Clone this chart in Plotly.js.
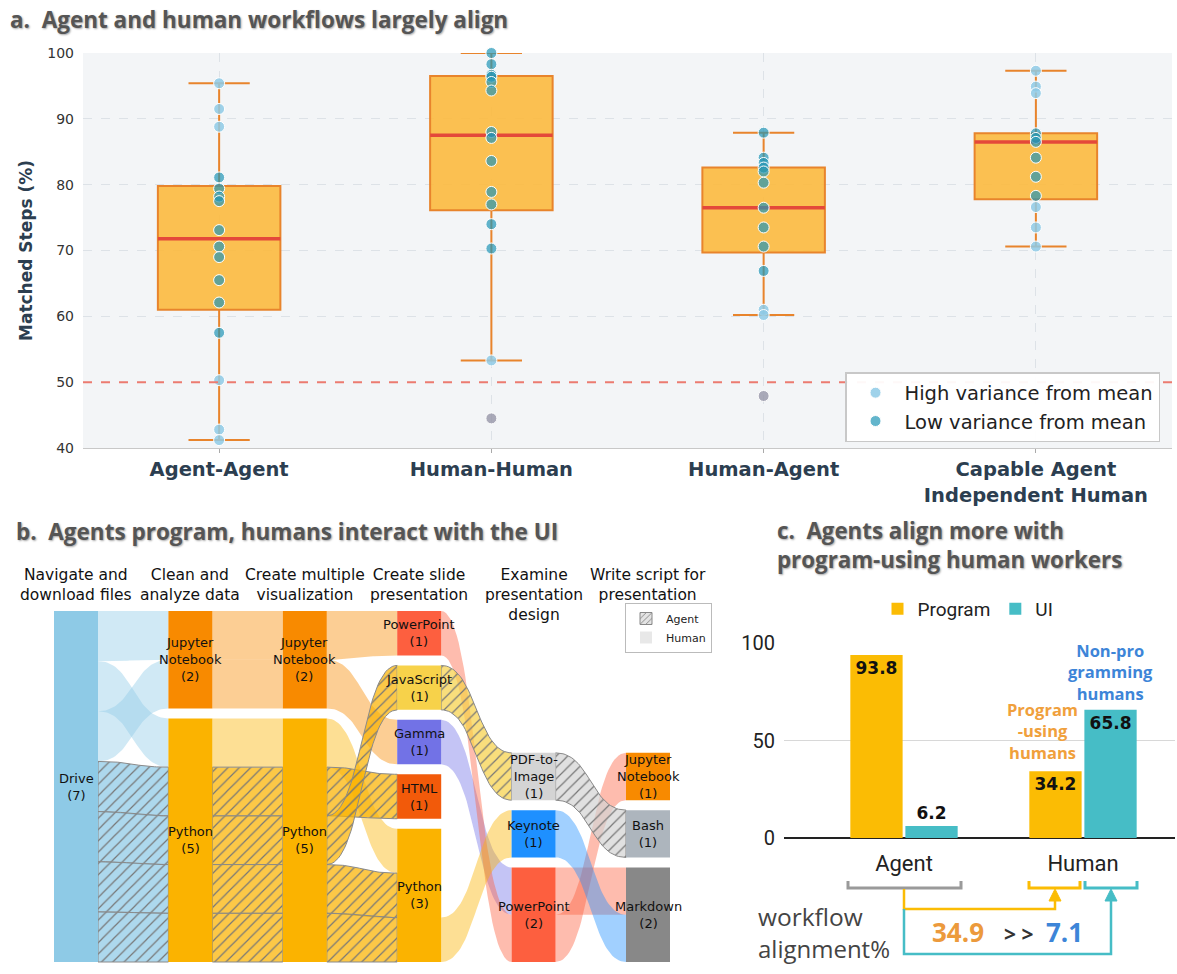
<!DOCTYPE html>
<html><head><meta charset="utf-8">
<script src="https://cdn.plot.ly/plotly-3.0.1.min.js"></script>
<style>html,body{margin:0;padding:0;background:#fff}#chart{width:1177px;height:974px}</style>
</head><body><div id="chart"></div>
<script>
// ================= DATA =================
// Panel a: matched steps (%) per comparison
const groups = ['Agent-Agent', 'Human-Human', 'Human-Agent', 'Capable Agent<br>Independent Human'];
const boxQ1     = [61.0, 76.1, 69.7, 77.8];
const boxMedian = [71.8, 87.5, 76.5, 86.5];
const boxQ3     = [79.8, 96.5, 82.6, 87.8];
const boxLow    = [41.2, 53.3, 60.2, 70.6];
const boxHigh   = [95.4, 100.0, 87.9, 97.3];
const highVariance = [
  [95.4, 91.5, 88.8, 50.3, 42.8, 41.2],
  [53.3],
  [61.0, 60.2],
  [97.3, 94.9, 93.9, 76.6, 73.5, 70.6]
];
const lowVariance = [
  [81.1, 79.4, 78.2, 77.5, 73.1, 70.6, 69.0, 65.5, 62.1, 57.5],
  [100.0, 98.3, 96.7, 96.4, 95.6, 94.3, 88.0, 87.1, 83.6, 78.9, 77.0, 74.0, 70.3],
  [87.9, 84.1, 83.3, 82.6, 82.0, 80.3, 76.5, 73.5, 70.6, 66.9],
  [87.8, 87.1, 86.5, 84.1, 81.2, 78.3]
];
const outlierPoints = [[], [44.5], [47.9], []];
const chanceLevel = 50;

// Panel b: workflow stages, tools, and per-workflow transitions
const stageLabels = ['Navigate and<br>download files', 'Clean and<br>analyze data', 'Create multiple<br>visualization',
  'Create slide<br>presentation', 'Examine<br>presentation<br>design', 'Write script for<br>presentation'];
const stageTools = [
  ['Drive'],
  ['Jupyter Notebook', 'Python'],
  ['Jupyter Notebook', 'Python'],
  ['PowerPoint', 'JavaScript', 'Gamma', 'HTML', 'Python'],
  ['PDF-to-Image', 'Keynote', 'PowerPoint'],
  ['Jupyter Notebook', 'Bash', 'Markdown']
];
// [stage, from tool, to tool, who]  (one workflow per row)
const flows = [
  [0, 'Drive', 'Jupyter Notebook', 'Human'],
  [0, 'Drive', 'Python', 'Human'],
  [0, 'Drive', 'Jupyter Notebook', 'Human'],
  [0, 'Drive', 'Python', 'Agent'],
  [0, 'Drive', 'Python', 'Agent'],
  [0, 'Drive', 'Python', 'Agent'],
  [0, 'Drive', 'Python', 'Agent'],
  [1, 'Jupyter Notebook', 'Jupyter Notebook', 'Human'],
  [1, 'Jupyter Notebook', 'Jupyter Notebook', 'Human'],
  [1, 'Python', 'Python', 'Human'],
  [1, 'Python', 'Python', 'Agent'],
  [1, 'Python', 'Python', 'Agent'],
  [1, 'Python', 'Python', 'Agent'],
  [1, 'Python', 'Python', 'Agent'],
  [2, 'Jupyter Notebook', 'PowerPoint', 'Human'],
  [2, 'Jupyter Notebook', 'Gamma', 'Human'],
  [2, 'Python', 'Python', 'Human'],
  [2, 'Python', 'HTML', 'Agent'],
  [2, 'Python', 'JavaScript', 'Agent'],
  [2, 'Python', 'Python', 'Agent'],
  [2, 'Python', 'Python', 'Agent'],
  [3, 'Gamma', 'PowerPoint', 'Human'],
  [3, 'PowerPoint', 'PowerPoint', 'Human'],
  [3, 'JavaScript', 'PDF-to-Image', 'Agent'],
  [3, 'Python', 'Keynote', 'Human'],
  [4, 'PowerPoint', 'Markdown', 'Human'],
  [4, 'PowerPoint', 'Jupyter Notebook', 'Human'],
  [4, 'Keynote', 'Markdown', 'Human'],
  [4, 'PDF-to-Image', 'Bash', 'Agent']
];

// Panel c: share of workflow steps (%)
const alignCats = ['Agent', 'Human'];
const programShare = [93.8, 34.2];
const uiShare = [6.2, 65.8];
const alignmentProgram = 34.9;
const alignmentUI = 7.1;

// ================= STYLE =================
const W = 1177, H = 974;
const toolColor = {
  'Drive': '#8ecae6', 'Jupyter Notebook': '#f88a00', 'Python': '#fbb300', 'PowerPoint': '#fd5f3f',
  'JavaScript': '#f7d24a', 'Gamma': '#7272e6', 'HTML': '#f25a0a', 'PDF-to-Image': '#d4d4d4',
  'Keynote': '#1e90ff', 'Bash': '#adb5bd', 'Markdown': '#888888'
};
const toolLabel = t => t === 'Jupyter Notebook' ? 'Jupyter<br>Notebook' : (t === 'PDF-to-Image' ? 'PDF-to-<br>Image' : t);
function rgba(hex, a) {
  const n = parseInt(hex.slice(1), 16);
  return `rgba(${(n >> 16) & 255},${(n >> 8) & 255},${n & 255},${a})`;
}
const titleFont = (size) => ({family: 'Open Sans', size: size, weight: 700, color: '#555', shadow: '1px 1px 2px rgba(0,0,0,0.35)'});

const traces = [];
const annotations = [];
const shapes = [];

// ================= PANEL A =================
const boxWidth = 0.45;
const gx = groups.map((g, i) => i);
traces.push({
  type: 'box', x: gx, q1: boxQ1, median: boxMedian, q3: boxQ3, lowerfence: boxLow, upperfence: boxHigh,
  width: boxWidth, whiskerwidth: 0.5, fillcolor: 'rgba(252,186,62,0.9)', line: {color: '#e8842c', width: 2},
  boxpoints: false, showlegend: false, hoverinfo: 'skip', xaxis: 'x', yaxis: 'y'
});
const mx = [], my = [];
boxMedian.forEach((m, i) => { mx.push(i - boxWidth / 2, i + boxWidth / 2, null); my.push(m, m, null); });
traces.push({type: 'scatter', mode: 'lines', x: mx, y: my, line: {color: '#e4483a', width: 3.5},
  showlegend: false, hoverinfo: 'skip', xaxis: 'x', yaxis: 'y'});
function flat(arr) { const xs = [], ys = []; arr.forEach((v, i) => v.forEach(y => { xs.push(i); ys.push(y); })); return {xs, ys}; }
const hv = flat(highVariance), lv = flat(lowVariance), ov = flat(outlierPoints);
traces.push({type: 'scatter', mode: 'markers', x: ov.xs, y: ov.ys, showlegend: false, cliponaxis: false,
  marker: {size: 11, color: 'rgba(150,150,168,0.8)', line: {color: 'white', width: 1}}, xaxis: 'x', yaxis: 'y', legend: 'legend'});
traces.push({type: 'scatter', mode: 'markers', name: 'High variance from mean', x: hv.xs, y: hv.ys, cliponaxis: false,
  marker: {size: 11, color: 'rgba(142,202,230,0.85)', line: {color: 'white', width: 1}}, xaxis: 'x', yaxis: 'y', legend: 'legend'});
traces.push({type: 'scatter', mode: 'markers', name: 'Low variance from mean', x: lv.xs, y: lv.ys, cliponaxis: false,
  marker: {size: 11, color: 'rgba(33,150,182,0.7)', line: {color: 'white', width: 1}}, xaxis: 'x', yaxis: 'y', legend: 'legend'});

shapes.push({type: 'rect', xref: 'x domain', yref: 'y domain', x0: 0, x1: 1, y0: 0, y1: 1, layer: 'below',
  fillcolor: '#f3f5f7', line: {width: 0}});
shapes.push({type: 'line', xref: 'x domain', yref: 'y', x0: 0, x1: 1, y0: chanceLevel, y1: chanceLevel,
  line: {color: '#ec7b70', width: 2, dash: 'dash'}});

annotations.push({xref: 'x3', yref: 'y3', x: 8, y: 19, xanchor: 'left', yanchor: 'middle', showarrow: false,
  text: 'a.  Agent and human workflows largely align', font: titleFont(22.5)});

// ================= PANEL B =================
const L = {x0: 54, step: 114.4, w: 44, top: 611, bottom: 962, pad: 10};
const nodes = stageTools.map((tools, s) => tools.map(t => ({tool: t, stage: s, vin: 0, vout: 0})));
const findNode = (s, t) => nodes[s].find(n => n.tool === t);
flows.forEach(([s, a, b]) => { findNode(s, a).vout++; findNode(s + 1, b).vin++; });
nodes.forEach(col => col.forEach(n => { n.value = Math.max(n.vin, n.vout); }));
const maxTotal = Math.max(...nodes.map(col => col.reduce((acc, n) => acc + n.value, 0)));
const unit = nodes.map(col => (L.bottom - L.top - (col.length - 1) * L.pad) / maxTotal);
nodes.forEach((col, s) => {
  let y = L.bottom;
  for (let k = col.length - 1; k >= 0; k--) {
    const n = col[k];
    n.y1 = y; n.y0 = y - n.value * unit[s]; y = n.y0 - L.pad;
    n.x0 = L.x0 + s * L.step; n.x1 = n.x0 + L.w;
    n.inC = n.y0; n.outC = n.y1 - n.vout * unit[s];
  }
});
const cubic = (a, b, c, d, t) => (1 - t) ** 3 * a + 3 * (1 - t) ** 2 * t * b + 3 * (1 - t) * t * t * c + t ** 3 * d;
function band(xs, xt, ys0, ys1, yt0, yt1) {
  const xm = (xs + xt) / 2, n = 40, X = [], Y = [];
  for (let i = 0; i <= n; i++) { const t = i / n; X.push(cubic(xs, xm, xm, xt, t)); Y.push(cubic(ys0, ys0, yt0, yt0, t)); }
  for (let i = n; i >= 0; i--) { const t = i / n; X.push(cubic(xs, xm, xm, xt, t)); Y.push(cubic(ys1, ys1, yt1, yt1, t)); }
  X.push(X[0]); Y.push(Y[0]);
  return {X, Y};
}
flows.forEach(([s, a, b, who]) => {
  const src = findNode(s, a), tgt = findNode(s + 1, b);
  const ys0 = src.outC, ys1 = ys0 + unit[s]; src.outC = ys1;
  const yt0 = tgt.inC, yt1 = yt0 + unit[s + 1]; tgt.inC = yt1;
  const p = band(src.x1, tgt.x0, ys0, ys1, yt0, yt1);
  const c = toolColor[a];
  const tr = {type: 'scatter', mode: 'lines', x: p.X, y: p.Y, fill: 'toself', xaxis: 'x3', yaxis: 'y3',
    hoverinfo: 'skip', showlegend: false};
  if (who === 'Agent') {
    tr.fillcolor = rgba(c, 0.72);
    tr.line = {color: '#8a8a8a', width: 1};
    tr.fillpattern = {shape: '/', fgcolor: '#777777', bgcolor: rgba(c, 0.72), size: 8, solidity: 0.15, fillmode: 'replace'};
  } else {
    tr.fillcolor = rgba(c, 0.42);
    tr.line = {color: 'rgba(0,0,0,0)', width: 0};
  }
  traces.push(tr);
});
nodes.forEach(col => col.forEach(n => {
  traces.push({type: 'scatter', mode: 'lines', x: [n.x0, n.x1, n.x1, n.x0, n.x0], y: [n.y0, n.y0, n.y1, n.y1, n.y0],
    fill: 'toself', fillcolor: toolColor[n.tool], line: {width: 0, color: 'rgba(0,0,0,0)'},
    xaxis: 'x3', yaxis: 'y3', hoverinfo: 'skip', showlegend: false});
  annotations.push({xref: 'x3', yref: 'y3', x: (n.x0 + n.x1) / 2, y: (n.y0 + n.y1) / 2, showarrow: false,
    text: toolLabel(n.tool) + '<br>(' + n.value + ')', font: {family: 'DejaVu Sans', size: 13, color: '#111'}});
}));
stageLabels.forEach((lab, s) => {
  annotations.push({xref: 'x3', yref: 'y3', x: L.x0 + s * L.step + L.w / 2, y: 564, yanchor: 'top', showarrow: false,
    text: lab, font: {family: 'DejaVu Sans', size: 15.5, color: '#111'}});
});
// legend swatches for panel b
traces.push({type: 'bar', x: [null], y: [null], name: 'Agent', legend: 'legend3', xaxis: 'x3', yaxis: 'y3',
  marker: {color: '#e4e4e4', line: {color: '#888', width: 1}, pattern: {shape: '/', fgcolor: '#777', bgcolor: '#e4e4e4', size: 5, solidity: 0.2}}});
traces.push({type: 'bar', x: [null], y: [null], name: 'Human', legend: 'legend3', xaxis: 'x3', yaxis: 'y3',
  marker: {color: '#e8e8e8', line: {width: 0}}});

annotations.push({xref: 'x3', yref: 'y3', x: 14, y: 531, xanchor: 'left', yanchor: 'middle', showarrow: false,
  text: 'b.  Agents program, humans interact with the UI', font: titleFont(22.5)});

// ================= PANEL C =================
const cx = alignCats.map((c, i) => i);
const barText = {family: 'DejaVu Sans', size: 17, weight: 700, color: '#111'};
traces.push({type: 'bar', name: 'Program', x: cx, y: programShare, marker: {color: '#fbbc04'},
  texttemplate: '%{y:.1f}', textposition: 'inside', insidetextanchor: 'end', textfont: barText, constraintext: 'none',
  cliponaxis: false, xaxis: 'x2', yaxis: 'y2', legend: 'legend2', hoverinfo: 'skip'});
traces.push({type: 'bar', name: 'UI', x: cx, y: uiShare, marker: {color: '#46bdc6'},
  texttemplate: '%{y:.1f}', textposition: ['outside', 'inside'], insidetextanchor: 'end', textfont: barText,
  outsidetextfont: barText, insidetextfont: barText, constraintext: 'none',
  cliponaxis: false, xaxis: 'x2', yaxis: 'y2', legend: 'legend2', hoverinfo: 'skip'});

annotations.push({xref: 'x3', yref: 'y3', x: 775, y: 545, xanchor: 'left', yanchor: 'middle', align: 'left', showarrow: false,
  text: 'c.  Agents align more with<br>program-using human workers', font: titleFont(22.3)});
const noteFont = (c) => ({family: 'Open Sans', size: 16.5, weight: 700, color: c});
annotations.push({xref: 'x3', yref: 'y3', x: 1110, y: 672, showarrow: false,
  text: 'Non-pro<br>gramming<br>humans', font: noteFont('#3d85d8')});
annotations.push({xref: 'x3', yref: 'y3', x: 1042, y: 731, showarrow: false,
  text: 'Program<br>-using<br>humans', font: noteFont('#f0a03c')});
annotations.push({xref: 'x3', yref: 'y3', x: 756, y: 916, xanchor: 'left', showarrow: false,
  text: 'workflow', font: {family: 'Open Sans', size: 24.5, color: '#444'}});
annotations.push({xref: 'x3', yref: 'y3', x: 756, y: 948, xanchor: 'left', showarrow: false,
  text: 'alignment%', font: {family: 'Open Sans', size: 24, color: '#444'}});
annotations.push({xref: 'x3', yref: 'y3', x: 958, y: 932, showarrow: false,
  text: alignmentProgram.toFixed(1), font: {family: 'Open Sans', size: 26, weight: 700, color: '#ec9a3c'}});
annotations.push({xref: 'x3', yref: 'y3', x: 1018, y: 934, showarrow: false,
  text: '&gt; &gt;', font: {family: 'Open Sans', size: 21, weight: 700, color: '#333'}});
annotations.push({xref: 'x3', yref: 'y3', x: 1064, y: 932, showarrow: false,
  text: alignmentUI.toFixed(1), font: {family: 'Open Sans', size: 26, weight: 700, color: '#3d85d8'}});

const bracket = (x0, x1, color) => ({type: 'path', xref: 'x3', yref: 'y3',
  path: `M${x0},881 L${x0},888 L${x1},888 L${x1},881`, line: {color: color, width: 3}});
shapes.push(bracket(848, 961, '#9a9a9a'));
shapes.push(bracket(1029, 1080, '#fbbc04'));
shapes.push(bracket(1085, 1137, '#46bdc6'));
shapes.push({type: 'path', xref: 'x3', yref: 'y3', path: 'M904,889 L904,909 L1055,909 L1055,897', line: {color: '#fbbc04', width: 2.5}});
shapes.push({type: 'path', xref: 'x3', yref: 'y3', path: 'M1049,901 L1055,889 L1061,901 Z', fillcolor: '#fbbc04', line: {color: '#fbbc04', width: 1}});
shapes.push({type: 'path', xref: 'x3', yref: 'y3', path: 'M904,909 L904,954 L1111,954 L1111,897', line: {color: '#46bdc6', width: 2.5}});
shapes.push({type: 'path', xref: 'x3', yref: 'y3', path: 'M1105,901 L1111,889 L1117,901 Z', fillcolor: '#46bdc6', line: {color: '#46bdc6', width: 1}});

// ================= LAYOUT =================
const layout = {
  width: W, height: H, margin: {l: 0, r: 0, t: 0, b: 0},
  paper_bgcolor: '#ffffff', plot_bgcolor: 'rgba(0,0,0,0)',
  font: {family: 'DejaVu Sans', color: '#222'},
  barmode: 'group', bargap: 0.385, bargroupgap: 0.05,
  xaxis: {domain: [83 / W, 1172 / W], range: [-0.5, 3.5], tickvals: gx, ticktext: groups, anchor: 'y',
    tickfont: {family: 'DejaVu Sans', size: 19.5, weight: 700, color: '#2c3e50'},
    showgrid: true, gridcolor: '#dde2e7', griddash: 'dash', zeroline: false,
    showline: true, linecolor: '#c8c8c8', ticks: 'outside', ticklen: 4, tickcolor: '#aaa'},
  yaxis: {domain: [1 - 448 / H, 1 - 53 / H], range: [40, 100], dtick: 10, anchor: 'x',
    tickfont: {family: 'DejaVu Sans', size: 14, color: '#333'}, ticklabelstandoff: 8,
    showgrid: true, gridcolor: '#dde2e7', griddash: 'dash', zeroline: false,
    title: {text: 'Matched Steps (%)', standoff: 10, font: {family: 'DejaVu Sans', size: 17, weight: 700, color: '#2c3e50'}}},
  xaxis2: {domain: [784 / W, 1175 / W], range: [(784 - 904) / 179, (1175 - 904) / 179], anchor: 'y2',
    tickvals: cx, ticktext: alignCats, ticks: '', ticklabelstandoff: 10, showgrid: false, zeroline: false,
    tickfont: {family: 'Roboto', size: 22, color: '#222'}},
  yaxis2: {domain: [1 - 838 / H, 1 - 643 / H], range: [0, 100], tickvals: [0, 50, 100], anchor: 'x2',
    tickfont: {family: 'Roboto', size: 20, color: '#222'}, gridcolor: '#d8d8d8', gridwidth: 1.5,
    zeroline: true, zerolinecolor: '#222', zerolinewidth: 1.5, ticklabelstandoff: 8},
  xaxis3: {domain: [0, 1], range: [0, W], visible: false, anchor: 'y3', fixedrange: true},
  yaxis3: {domain: [0, 1], range: [H, 0], visible: false, anchor: 'x3', fixedrange: true},
  legend: {x: 845 / W, y: 1 - 372 / H, xanchor: 'left', yanchor: 'top', bgcolor: 'rgba(255,255,255,0.95)',
    bordercolor: '#c8c8c8', borderwidth: 1.5, itemwidth: 48, font: {family: 'DejaVu Sans', size: 19.5, color: '#222'}},
  legend2: {orientation: 'h', x: 968 / W, y: 1 - 590 / H, xanchor: 'center', yanchor: 'top', bgcolor: 'rgba(0,0,0,0)',
    font: {family: 'Roboto', size: 19, color: '#222'}},
  legend3: {x: 625 / W, y: 1 - 603 / H, xanchor: 'left', yanchor: 'top', bgcolor: '#ffffff',
    bordercolor: '#bbb', borderwidth: 1, font: {family: 'DejaVu Sans', size: 11, color: '#222'}},
  shapes: shapes, annotations: annotations
};
Plotly.newPlot('chart', traces, layout, {displayModeBar: false, staticPlot: true});
</script></body></html>
